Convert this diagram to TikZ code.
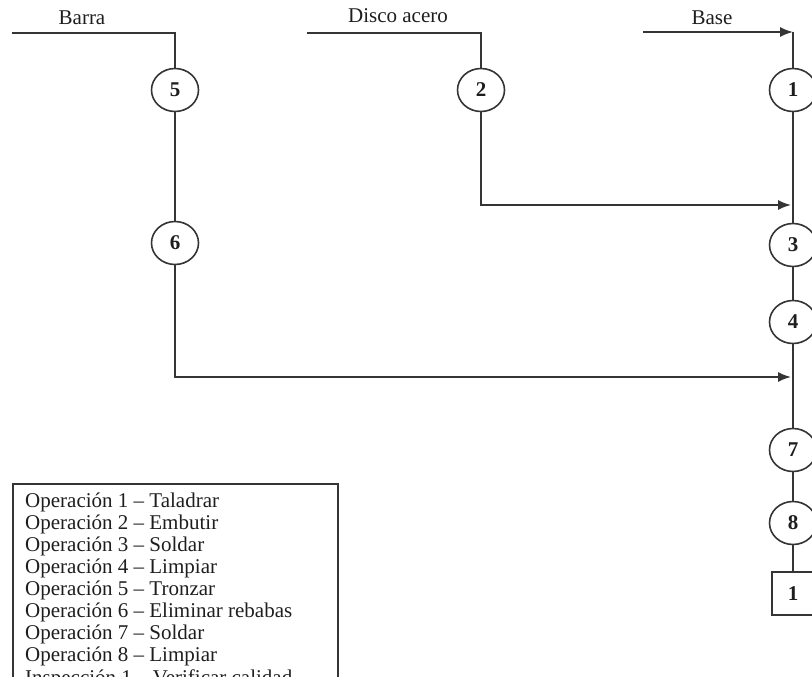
\documentclass[tikz,border=0pt]{standalone}
\usepackage{fontspec}
\setmainfont{Liberation Serif}
\usetikzlibrary{shapes.geometric,arrows.meta}
\definecolor{ink}{HTML}{1E1E1E}
\definecolor{wire}{HTML}{353535}
\begin{document}
\begin{tikzpicture}[x=1pt,y=-1pt,
  font=\fontsize{21}{22}\selectfont,
  every node/.style={text=ink},
  flow/.style={draw=wire,line width=1.6pt},
  feed/.style={flow,-{Latex[length=13pt,width=10pt]}},
  opcircle/.style={ellipse,draw=wire,line width=1.6pt,fill=white,
    minimum width=47,minimum height=43,inner sep=0pt,font=\fontsize{21}{22}\selectfont\bfseries},
  inspbox/.style={rectangle,draw=wire,line width=1.6pt,fill=white,
    minimum width=42,minimum height=43,inner sep=0pt,font=\fontsize{21}{22}\selectfont\bfseries},
  legline/.style={anchor=base west,inner sep=0pt}]
\useasboundingbox (0,0) rectangle (812,677);
\clip (0,0) rectangle (812,677);

% material labels
\node[anchor=base,inner sep=0pt] (tbarra) at (82,25) {Barra};
\node[anchor=base,inner sep=0pt] (tdisco) at (398,23) {Disco acero};
\node[anchor=base,inner sep=0pt] (tbase) at (712,25) {Base};

% operations and inspection
\node[opcircle] (c5) at (175,90) {5};
\node[opcircle] (c6) at (175,243) {6};
\node[opcircle] (c2) at (481,90) {2};
\node[opcircle] (c1) at (793,90) {1};
\node[opcircle] (c3) at (793,245) {3};
\node[opcircle] (c4) at (793,322) {4};
\node[opcircle] (c7) at (793,450) {7};
\node[opcircle] (c8) at (793,523) {8};
\node[inspbox] (i1) at (793,593.5) {1};

% entry points and junctions
\coordinate (barraIn) at (12,33);
\coordinate (discoIn) at (307,33);
\coordinate (baseIn) at (643,32);
\coordinate (baseTop) at (793,32);
\coordinate (join3) at (791,205);
\coordinate (join7) at (791,377);

% connectors
\draw[flow] (barraIn) -| (c5);
\draw[flow] (c5) -- (c6);
\draw[feed] (c6) |- (join7);
\draw[flow] (discoIn) -| (c2);
\draw[feed] (c2) |- (join3);
\draw[feed] (baseIn) -- (baseTop);
\draw[flow] (baseTop) -- (c1);
\draw[flow] (c1) -- (c3);
\draw[flow] (c3) -- (c4);
\draw[flow] (c4) -- (c7);
\draw[flow] (c7) -- (c8);
\draw[flow] (c8) -- (i1);

% legend
\node[draw=wire,line width=1.6pt,anchor=north west,minimum width=325,minimum height=230,inner sep=0pt] (legend) at (12,483) {};
\node[legline] (l1) at (25,507) {Operación 1 – Taladrar};
\node[legline] (l2) at (25,529) {Operación 2 – Embutir};
\node[legline] (l3) at (25,551) {Operación 3 – Soldar};
\node[legline] (l4) at (25,573) {Operación 4 – Limpiar};
\node[legline] (l5) at (25,595) {Operación 5 – Tronzar};
\node[legline] (l6) at (25,617) {Operación 6 – Eliminar rebabas};
\node[legline] (l7) at (25,639) {Operación 7 – Soldar};
\node[legline] (l8) at (25,661) {Operación 8 – Limpiar};
\node[legline] (l9) at (25,684) {Inspección 1 – Verificar calidad};
\end{tikzpicture}
\end{document}
